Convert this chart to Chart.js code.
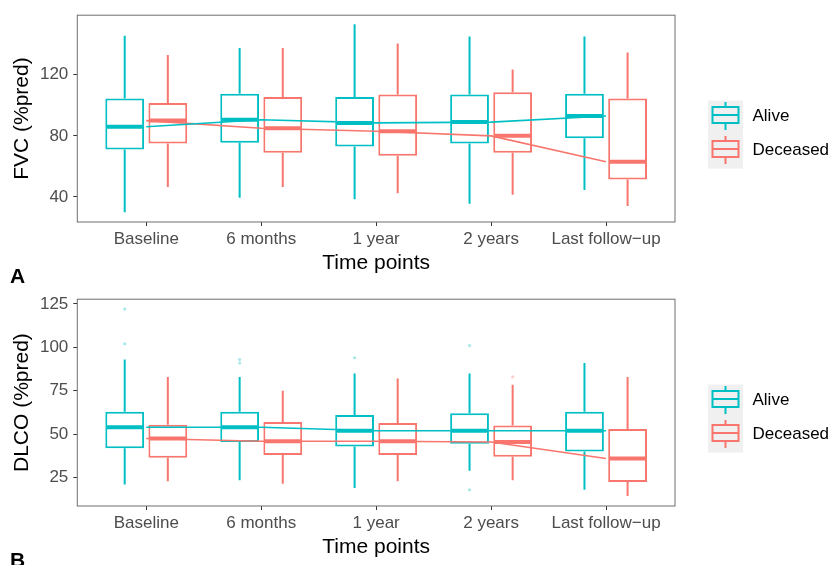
<!DOCTYPE html>
<html>
<head>
<meta charset="utf-8">
<script src="https://cdn.jsdelivr.net/npm/chart.js@4/dist/chart.umd.min.js"></script>
<style>
  body { margin: 0; width: 835px; height: 565px; overflow: hidden; position: relative; background: #fff; }
  canvas { position: absolute; left: 0; }
  .tag { position: absolute; left: 10px; font: bold 21px "Liberation Sans", Arial, sans-serif; line-height: 21px; color: #000; }
</style>
</head>
<body>
<canvas id="fvc" width="835" height="285" style="top:0"></canvas>
<canvas id="dlco" width="835" height="285" style="top:284px"></canvas>
<div class="tag" style="top:265px">A</div>
<div class="tag" style="top:549px">B</div>
<script>
const categories = ['Baseline', '6 months', '1 year', '2 years', 'Last follow\u2212up'];
const groups = ['Alive', 'Deceased'];

// FVC (%pred) box stats
const fvcAliveMin = [30, 39.5, 38.5, 35.5, 44.5];
const fvcAliveQ1 = [71, 75.5, 73, 75, 78.5];
const fvcAliveMed = [86, 90.5, 88.5, 89, 93];
const fvcAliveQ3 = [104.5, 107.5, 105.5, 107, 107.5];
const fvcAliveMax = [145.5, 137.5, 153, 145, 145];
const fvcAliveOut = [[], [], [], [], []];

const fvcDeadMin = [46.5, 46.5, 42.5, 41.5, 34];
const fvcDeadQ1 = [75, 69, 67, 69, 51.5];
const fvcDeadMed = [90, 85, 83, 80, 63];
const fvcDeadQ3 = [101.5, 105.5, 107, 108.5, 104.5];
const fvcDeadMax = [133, 137.5, 140.5, 123.5, 134.5];
const fvcDeadOut = [[], [], [], [], []];

// DLCO (%pred) box stats
const dlcoAliveMin = [21, 23.5, 19, 29, 18];
const dlcoAliveQ1 = [42, 45.5, 43, 44.5, 40];
const dlcoAliveMed = [54, 54, 52, 52, 52];
const dlcoAliveQ3 = [63, 63, 61, 62, 63];
const dlcoAliveMax = [93, 83, 85, 85, 91];
const dlcoAliveOut = [[122, 102], [93, 91], [94], [101, 18], []];

const dlcoDeadMin = [23, 21.5, 23, 23.5, 14.5];
const dlcoDeadQ1 = [36.5, 38, 38, 37, 22.5];
const dlcoDeadMed = [47.5, 46, 46, 45.5, 36];
const dlcoDeadQ3 = [55.5, 57, 56.5, 55, 53];
const dlcoDeadMax = [83, 75, 82, 78.5, 83];
const dlcoDeadOut = [[], [], [], [83], []];

const fvcTicks = [40, 80, 120];
const dlcoTicks = [25, 50, 75, 100, 125];

const TEAL = '#00BFC4';
const RED = '#F8766D';
const FONT = '"Liberation Sans", Arial, sans-serif';

// whiskers, medians and outliers for each box dataset
const boxExtras = {
    id: 'boxExtras',
    afterDatasetDraw(chart, args) {
        const ds = chart.data.datasets[args.index];
        if (!ds.box) return;
        const y = chart.scales.y;
        const ctx = chart.ctx;
        const b = ds.box;
        ctx.save();
        ctx.strokeStyle = ds.borderColor;
        args.meta.data.forEach((bar, i) => {
            const half = bar.width / 2;
            ctx.lineWidth = 2;
            ctx.beginPath();
            ctx.moveTo(bar.x, y.getPixelForValue(b.max[i]));
            ctx.lineTo(bar.x, y.getPixelForValue(b.q3[i]));
            ctx.moveTo(bar.x, y.getPixelForValue(b.q1[i]));
            ctx.lineTo(bar.x, y.getPixelForValue(b.min[i]));
            ctx.stroke();

            ctx.lineWidth = 4;
            ctx.beginPath();
            const m = y.getPixelForValue(b.med[i]);
            ctx.moveTo(bar.x - half + 1, m);
            ctx.lineTo(bar.x + half - 1, m);
            ctx.stroke();

            ctx.fillStyle = ds.outColor;
            for (const v of b.out[i]) {
                ctx.beginPath();
                ctx.arc(bar.x, y.getPixelForValue(v), 1.6, 0, Math.PI * 2);
                ctx.fill();
            }
        });
        ctx.restore();
    },
    afterDraw(chart) {
        const ctx = chart.ctx;
        const a = chart.chartArea;
        ctx.save();
        // panel border
        ctx.strokeStyle = '#6e6e6e';
        ctx.lineWidth = 1;
        ctx.strokeRect(a.left, a.top, a.right - a.left, a.bottom - a.top);

        // legend
        const kx = 708, kw = 35, rowH = 34, top = 100.5;
        ctx.fillStyle = '#f0f0f0';
        ctx.fillRect(kx, top, kw, rowH * 2);
        [TEAL, RED].forEach((col, r) => {
            const cy = top + rowH * r + 14.5;
            const cx = kx + kw / 2;
            ctx.strokeStyle = col;
            ctx.lineWidth = 2;
            ctx.beginPath();
            ctx.moveTo(cx, cy - 13);
            ctx.lineTo(cx, cy - 8);
            ctx.moveTo(cx, cy + 8);
            ctx.lineTo(cx, cy + 15);
            ctx.moveTo(cx - 13, cy);
            ctx.lineTo(cx + 13, cy);
            ctx.stroke();
            ctx.strokeRect(cx - 13, cy - 8, 26, 16);
            ctx.fillStyle = '#000';
            ctx.font = '17px ' + FONT;
            ctx.textBaseline = 'middle';
            ctx.textAlign = 'left';
            ctx.fillText(groups[r], 752.5, cy + 1);
        });
        ctx.restore();
    }
};

function boxDataset(label, color, outColor, min, q1, med, q3, max, out) {
    return {
        type: 'bar',
        label: label,
        data: q1.map((v, i) => ({ x: i + 1, y: [v, q3[i]] })),
        backgroundColor: '#ffffff',
        borderColor: color,
        borderWidth: 2,
        borderSkipped: false,
        outColor: outColor,
        box: { min, q1, med, q3, max, out },
        order: 1,
    };
}

function medianLine(label, color, med) {
    return {
        type: 'line',
        label: label,
        data: med.map((v, i) => ({ x: i + 1, y: v })),
        borderColor: color,
        borderWidth: 1.6,
        pointRadius: 0,
        fill: false,
        order: 0,
    };
}

function makeChart(id, yTitle, yMin, yMax, yTicks, datasets) {
    return new Chart(document.getElementById(id), {
        data: { datasets },
        plugins: [boxExtras],
        options: {
            responsive: false,
            animation: false,
            devicePixelRatio: 1,
            categoryPercentage: 0.75,
            barPercentage: 0.9,
            layout: { padding: { top: 13, right: 160, left: 0, bottom: 0 } },
            plugins: {
                legend: { display: false },
                tooltip: { enabled: false },
            },
            scales: {
                x: {
                    type: 'linear',
                    offset: false,
                    min: 0.4,
                    max: 5.6,
                    afterBuildTicks: (s) => { s.ticks = categories.map((c, i) => ({ value: i + 1 })); },
                    afterFit: (s) => { s.height = 63; },
                    ticks: {
                        callback: (v) => categories[v - 1],
                        color: '#4d4d4d',
                        font: { family: FONT, size: 17 },
                        padding: 3,
                        maxRotation: 0,
                        autoSkip: false,
                    },
                    grid: { offset: false, drawOnChartArea: false, tickLength: 4, tickColor: '#333', tickWidth: 1 },
                    border: { display: false },
                    title: {
                        display: true,
                        text: 'Time points',
                        color: '#000',
                        font: { family: FONT, size: 21 },
                        padding: { top: 0, bottom: 9 },
                    },
                },
                y: {
                    min: yMin,
                    max: yMax,
                    afterBuildTicks: (s) => { s.ticks = yTicks.map(v => ({ value: v })); },
                    afterFit: (s) => { s.width = 77.3; },
                    ticks: {
                        color: '#4d4d4d',
                        font: { family: FONT, size: 17 },
                        padding: 5,
                    },
                    grid: { offset: false, drawOnChartArea: false, tickLength: 4, tickColor: '#333', tickWidth: 1 },
                    border: { display: false },
                    title: {
                        display: true,
                        text: yTitle,
                        color: '#000',
                        font: { family: FONT, size: 21 },
                        padding: { top: 10, bottom: 0 },
                    },
                },
            },
        },
    });
}

makeChart('fvc', 'FVC (%pred)', 23.6, 159, fvcTicks, [
    boxDataset('Alive', TEAL, 'rgba(0,191,196,0.35)', fvcAliveMin, fvcAliveQ1, fvcAliveMed, fvcAliveQ3, fvcAliveMax, fvcAliveOut),
    boxDataset('Deceased', RED, 'rgba(248,118,109,0.35)', fvcDeadMin, fvcDeadQ1, fvcDeadMed, fvcDeadQ3, fvcDeadMax, fvcDeadOut),
    medianLine('Alive median', TEAL, fvcAliveMed),
    medianLine('Deceased median', RED, fvcDeadMed),
]);

makeChart('dlco', 'DLCO (%pred)', 8.7, 127.7, dlcoTicks, [
    boxDataset('Alive', TEAL, 'rgba(0,191,196,0.35)', dlcoAliveMin, dlcoAliveQ1, dlcoAliveMed, dlcoAliveQ3, dlcoAliveMax, dlcoAliveOut),
    boxDataset('Deceased', RED, 'rgba(248,118,109,0.35)', dlcoDeadMin, dlcoDeadQ1, dlcoDeadMed, dlcoDeadQ3, dlcoDeadMax, dlcoDeadOut),
    medianLine('Alive median', TEAL, dlcoAliveMed),
    medianLine('Deceased median', RED, dlcoDeadMed),
]);
</script>
</body>
</html>
